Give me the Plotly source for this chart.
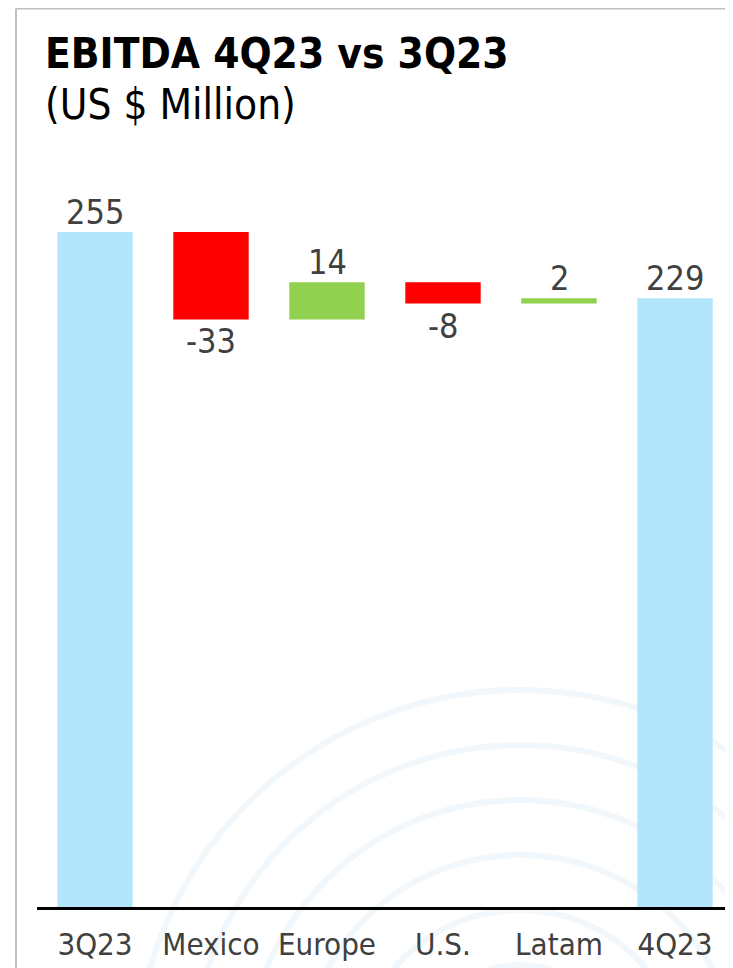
import plotly.graph_objects as go

categories = ["3Q23", "Mexico", "Europe", "U.S.", "Latam", "4Q23"]
values = [255, -33, 14, -8, 2, 229]
measures = ["absolute", "relative", "relative", "relative", "relative", "total"]
labels = ["255", "-33", "14", "-8", "2", "229"]

# page has an 8px body margin, so the figure is 725x960
W, H = 725, 960
L, T, B = 29, 142, 61
PW, PH = W - L, H - T - B

def px(x):
    return (x - L) / PW

def py(y):
    return (H - B - y) / PH

FONT = "DejaVu Sans Condensed, DejaVu Sans, sans-serif"

fig = go.Figure(go.Waterfall(
    x=categories, y=values, measure=measures,
    increasing=dict(marker=dict(color="#92d050")),
    decreasing=dict(marker=dict(color="#ff0000")),
    totals=dict(marker=dict(color="#b3e5fc")),
    connector=dict(visible=False),
    hoverinfo="skip",
))

# value labels at the end of each bar, derived from the values
annotations = []
run = 0
for c, v, m, lab in zip(categories, values, measures, labels):
    if m == "absolute":
        run = v
        end, up = v, True
    elif m == "total":
        end, up = run, True
    else:
        run += v
        end, up = run, v >= 0
    annotations.append(dict(
        x=c, y=end, xref="x", yref="y", text=lab, showarrow=False,
        yanchor="bottom" if up else "top", yshift=-2 if up else 0,
        font=dict(family=FONT, size=34, color="#404040")))

shapes = []
# faint decorative arcs
cx, cy = 512, 1067
for r in [385, 330, 275, 220, 165, 110]:
    shapes.append(dict(type="circle", xref="paper", yref="paper", layer="below",
                       x0=px(cx - r), x1=px(cx + r), y0=py(cy + r), y1=py(cy - r),
                       line=dict(color="#f1f7fa", width=6)))
# border
shapes.append(dict(type="line", xref="paper", yref="paper", x0=px(8), x1=px(8),
                   y0=py(970), y1=py(0.5), line=dict(color="#c0c0c0", width=2)))
shapes.append(dict(type="line", xref="paper", yref="paper", x0=px(8), x1=px(740),
                   y0=py(0.5), y1=py(0.5), line=dict(color="#c0c0c0", width=2)))

annotations += [
    dict(text="<b>EBITDA 4Q23 vs 3Q23</b>", xref="paper", yref="paper",
         x=px(35), y=py(45), xanchor="left", yanchor="middle", showarrow=False,
         font=dict(family=FONT, size=42, color="black")),
    dict(text="(US $ Million)", xref="paper", yref="paper",
         x=px(35), y=py(96), xanchor="left", yanchor="middle", showarrow=False,
         font=dict(family=FONT, size=42, color="black")),
]

fig.update_layout(
    width=W, height=H,
    margin=dict(l=L, r=0, t=T, b=B),
    paper_bgcolor="white", plot_bgcolor="rgba(0,0,0,0)",
    showlegend=False,
    waterfallgap=0.35,
    shapes=shapes,
    xaxis=dict(showline=True, linecolor="black", linewidth=3, ticks="",
               tickfont=dict(family=FONT, size=31, color="#404040"),
               ticklabelstandoff=8,
               showgrid=False, zeroline=False, range=[-0.5, 5.5]),
    yaxis=dict(visible=False, range=[0, 286], showgrid=False, zeroline=False),
    annotations=annotations,
)

fig.write_html("out.html")
